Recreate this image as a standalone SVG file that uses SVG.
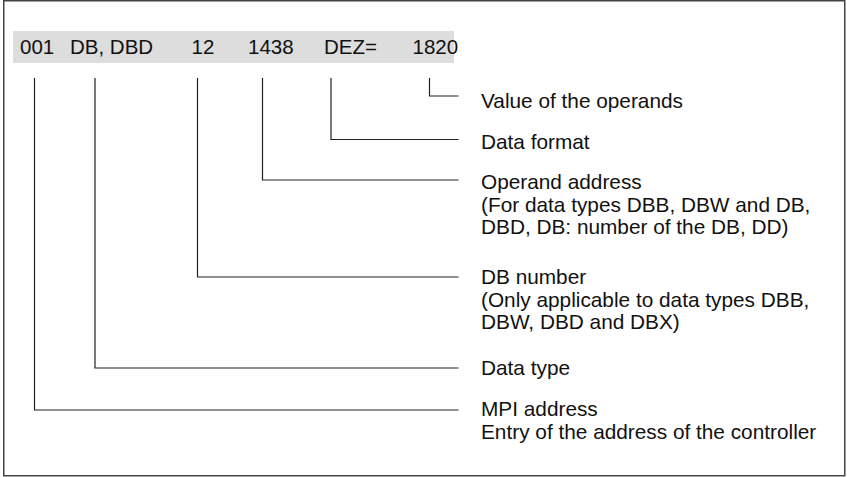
<svg xmlns="http://www.w3.org/2000/svg" width="847" height="477" viewBox="0 0 847 477">
<style>
text{font-family:"Liberation Sans",Arial,sans-serif;font-size:20.8px;fill:#111}
#header text{font-size:20.5px}
.c{fill:none;stroke:#222;stroke-width:1.2}
</style>
<rect x="0" y="0" width="847" height="477" fill="#fff"/>
<rect id="frame" x="3.75" y="0.75" width="841" height="475" fill="none" stroke="#444" stroke-width="1.5"/>
<g id="header">
<rect x="13" y="31" width="441" height="32" fill="#dddddd"/>
<text x="20" y="54">001</text>
<text x="70" y="54">DB, DBD</text>
<text x="191.5" y="54">12</text>
<text x="248" y="54">1438</text>
<text x="324" y="54">DEZ=</text>
<text x="412.5" y="54">1820</text>
</g>
<g id="connectors">
<path class="c" d="M429.5 78V96H458.5"/>
<path class="c" d="M331 78V139.5H458.5"/>
<path class="c" d="M262.5 78V180H458.5"/>
<path class="c" d="M197.5 78V277H458.5"/>
<path class="c" d="M95 78V368H458.5"/>
<path class="c" d="M34.5 78V410H458.5"/>
</g>
<g id="value"><text x="481" y="107.5">Value of the operands</text></g>
<g id="format"><text x="481" y="148.5">Data format</text></g>
<g id="operand"><text x="481" y="189">Operand address</text><text x="481" y="211.5">(For data types DBB, DBW and DB,</text><text x="481" y="234">DBD, DB: number of the DB, DD)</text></g>
<g id="dbnumber"><text x="481" y="284">DB number</text><text x="481" y="306.5">(Only applicable to data types DBB,</text><text x="481" y="329">DBW, DBD and DBX)</text></g>
<g id="datatype"><text x="481" y="375">Data type</text></g>
<g id="mpi"><text x="481" y="416">MPI address</text><text x="481" y="438.5">Entry of the address of the controller</text></g>
</svg>
